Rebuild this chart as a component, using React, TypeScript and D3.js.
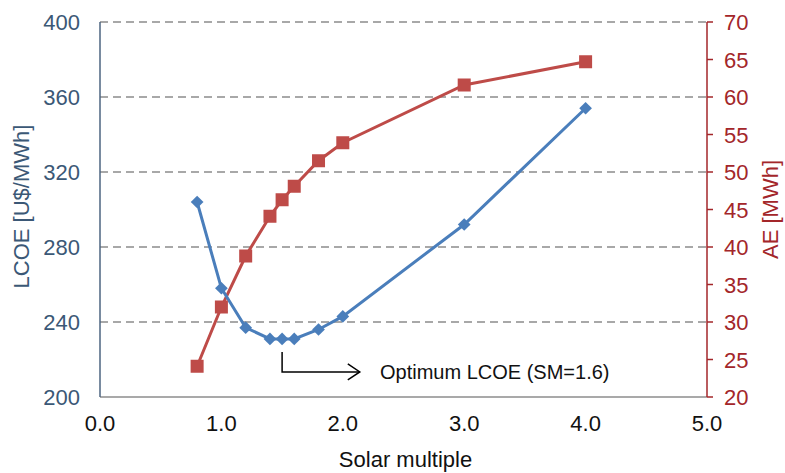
import React from 'react';
import * as d3 from 'd3';

const solarMultiple = [0.8, 1.0, 1.2, 1.4, 1.5, 1.6, 1.8, 2.0, 3.0, 4.0];
const lcoe = [304, 258, 237, 231, 231, 231, 236, 243, 292, 354];
const ae = [24.1, 32, 38.8, 44.1, 46.3, 48.1, 51.5, 53.9, 61.6, 64.7];
const xTicks = [0, 1, 2, 3, 4, 5];
const leftTicks = [200, 240, 280, 320, 360, 400];
const rightTicks = [20, 25, 30, 35, 40, 45, 50, 55, 60, 65, 70];

const W = 785;
const H = 473;
const margin = { top: 22, right: 78, bottom: 76, left: 100 };
const FONT = '"Liberation Sans", Arial, sans-serif';
const BLUE = '#4a7ebb';
const RED = '#be4b48';
const LEFT_TEXT = '#3b5876';
const RIGHT_TEXT = '#a3262a';

export default function App() {
  const x = d3.scaleLinear().domain([0, 5]).range([margin.left, W - margin.right]);
  const yL = d3.scaleLinear().domain([200, 400]).range([H - margin.bottom, margin.top]);
  const yR = d3.scaleLinear().domain([20, 70]).range([H - margin.bottom, margin.top]);

  const lineL = d3.line<number>().x((_, i) => x(solarMultiple[i])).y((d) => yL(d));
  const lineR = d3.line<number>().x((_, i) => x(solarMultiple[i])).y((d) => yR(d));

  const x0 = x(0);
  const x1 = x(5);
  const yb = yL(200);
  const yt = yL(400);

  // annotation below the flat minimum
  const ax = x(1.5);
  const ay0 = yL(231) + 13;
  const ay1 = ay0 + 20;
  const axEnd = x(2.14);

  return (
    <svg width={W} height={H} style={{ position: 'absolute', left: 0, top: 0, background: '#fff' }} fontFamily={FONT}>
      {/* grid */}
      {leftTicks.filter((t) => t > 200).map((t) => (
        <line key={t} x1={x0} x2={x1} y1={yL(t)} y2={yL(t)} stroke="#8c8c8c" strokeWidth={1.5} strokeDasharray="8,5" />
      ))}
      {/* bottom axis */}
      <line x1={x0} x2={x1} y1={yb} y2={yb} stroke="#8c8c8c" strokeWidth={1.5} />
      {xTicks.map((t) => (
        <text key={t} x={x(t)} y={yb + 34} textAnchor="middle" fontSize={22} fill="#111">
          {t.toFixed(1)}
        </text>
      ))}
      <text x={(x0 + x1) / 2 + 2} y={H - 6} textAnchor="middle" fontSize={22} fill="#111">Solar multiple</text>

      {/* left axis */}
      <line x1={x0} x2={x0} y1={yt} y2={yb} stroke="#4d6480" strokeWidth={1.5} />
      {leftTicks.map((t) => (
        <text key={t} x={x0 - 20} y={yL(t) + 8} textAnchor="end" fontSize={22} fill={LEFT_TEXT}>{t}</text>
      ))}
      <text transform={`translate(29,${(yt + yb) / 2 - 3}) rotate(-90)`} textAnchor="middle" fontSize={22} fill={LEFT_TEXT}>
        LCOE [U$/MWh]
      </text>

      {/* right axis */}
      <line x1={x1} x2={x1} y1={yt} y2={yb} stroke="#a3262a" strokeWidth={1.5} />
      {rightTicks.map((t) => (
        <g key={t}>
          <line x1={x1} x2={x1 + 6} y1={yR(t)} y2={yR(t)} stroke="#a3262a" strokeWidth={1.5} />
          <text x={x1 + 17} y={yR(t) + 8} fontSize={22} fill={RIGHT_TEXT}>{t}</text>
        </g>
      ))}
      <text transform={`translate(778,${(yt + yb) / 2}) rotate(-90)`} textAnchor="middle" fontSize={22} fill={RIGHT_TEXT}>
        AE [MWh]
      </text>

      {/* series */}
      <path d={lineR(ae) ?? ''} fill="none" stroke={RED} strokeWidth={3} />
      <path d={lineL(lcoe) ?? ''} fill="none" stroke={BLUE} strokeWidth={3} />
      {ae.map((v, i) => (
        <rect key={i} x={x(solarMultiple[i]) - 6.5} y={yR(v) - 6.5} width={13} height={13} fill={RED} />
      ))}
      {lcoe.map((v, i) => (
        <rect
          key={i}
          x={-4.5}
          y={-4.5}
          width={9}
          height={9}
          fill={BLUE}
          transform={`translate(${x(solarMultiple[i])},${yL(v)}) rotate(45)`}
        />
      ))}

      {/* annotation */}
      <path d={`M${ax},${ay0}V${ay1}H${axEnd}`} fill="none" stroke="#000" strokeWidth={1.5} />
      <path d={`M${axEnd - 12},${ay1 - 8}L${axEnd},${ay1}L${axEnd - 12},${ay1 + 8}`} fill="none" stroke="#000" strokeWidth={1.5} />
      <text x={380} y={ay1 + 7} fontSize={20} fill="#111">Optimum LCOE (SM=1.6)</text>
    </svg>
  );
}
